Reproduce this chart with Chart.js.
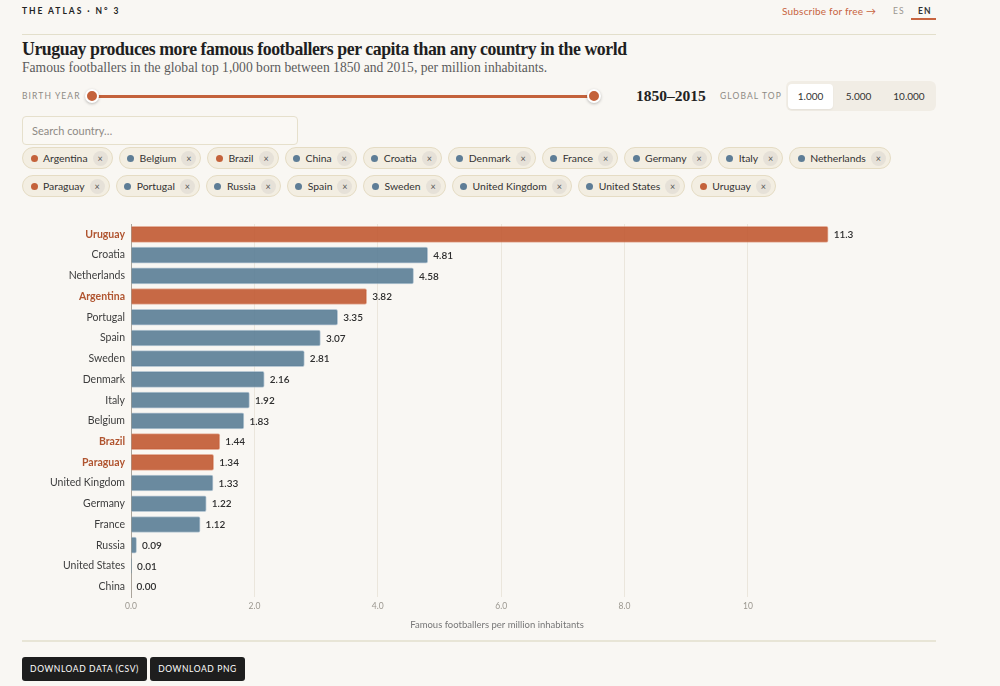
<!DOCTYPE html>
<html><head><meta charset="utf-8">
<script src="https://cdn.jsdelivr.net/npm/chart.js@4.4.1/dist/chart.umd.min.js"></script>
<style>
html,body{margin:0;padding:0;background:#f9f7f3;}
body{width:1000px;height:686px;position:relative;overflow:hidden;font-family:Lato,"Noto Sans",sans-serif;color:#222;}
*{box-sizing:border-box;}
.abs{position:absolute;white-space:nowrap;}
.brand{left:22px;top:5px;font-size:8.5px;font-weight:700;letter-spacing:1.95px;line-height:12px;color:#222;}
.sub{left:782px;top:5px;font-size:10px;color:#c8643f;line-height:12px;letter-spacing:0.2px;}
.lang{top:5px;font-size:8.5px;letter-spacing:1.2px;line-height:12px;}
.rule{left:22px;width:914px;height:1px;background:#e3dfcb;}
.title{left:22px;top:38px;font-family:"Liberation Serif",serif;font-weight:700;font-size:17.8px;letter-spacing:-0.45px;line-height:22px;color:#1f1f1f;}
.subtitle{left:22px;top:60px;font-family:"Liberation Serif",serif;font-size:13.6px;line-height:16px;color:#5b5b5b;}
.lbl{font-size:8.5px;letter-spacing:1.1px;color:#8d8a84;line-height:12px;}
.track{left:92px;top:94.5px;width:502px;height:3px;background:#c4623b;border-radius:2px;}
.thumb{width:14px;height:14px;border-radius:50%;background:#c4623b;border:2px solid #fff;box-shadow:0 1px 3px rgba(0,0,0,0.25);}
.range{left:636px;top:87px;font-family:"Liberation Serif",serif;font-weight:700;font-size:15.5px;line-height:18px;color:#222;}
.seg{left:786px;top:81px;width:150px;height:30px;background:#f1ede5;border-radius:6px;}
.segb{top:84px;height:25px;line-height:25px;font-size:10px;color:#333;text-align:center;}
.search{left:22px;top:116px;width:276px;height:29px;border:1px solid #e6e0cc;border-radius:4px;background:#faf8f4;}
.search span{position:absolute;left:9px;top:7px;font-size:11px;color:#8e8a84;}
.row{position:absolute;left:22px;display:flex;gap:6px;}
.chip{height:22px;border:1px solid #e5dcc4;background:#f3eee2;border-radius:11px;display:flex;align-items:center;padding:0 4px 0 7.5px;font-size:10.4px;color:#333;}
.chip .dot{flex:none;width:7px;height:7px;border-radius:50%;margin-right:5.5px;}
.chip .x{flex:none;width:15px;height:15px;border-radius:50%;background:#e6e1d8;margin-left:5px;font-size:9px;line-height:15px;text-align:center;color:#555;}
.btn{top:657px;height:24px;line-height:24px;background:#1e1e1e;color:#fff;font-size:8.5px;letter-spacing:0.6px;border-radius:3px;text-align:center;}
#wrap{position:absolute;left:22px;top:210px;width:914px;height:424px;}
</style></head>
<body>
<div class="abs brand">THE ATLAS · N° 3</div>
<div class="abs sub">Subscribe for free →</div>
<div class="abs lang" style="left:893px;color:#9a968f;">ES</div>
<div class="abs lang" style="left:918px;color:#333;font-weight:700;">EN</div>
<div class="abs" style="left:911px;top:18px;width:25px;height:2px;background:#c8643f;"></div>
<div class="abs rule" style="top:34px;"></div>
<div class="abs title">Uruguay produces more famous footballers per capita than any country in the world</div>
<div class="abs subtitle">Famous footballers in the global top 1,000 born between 1850 and 2015, per million inhabitants.</div>
<div class="abs lbl" style="left:22px;top:90px;">BIRTH YEAR</div>
<div class="abs track"></div>
<div class="abs thumb" style="left:85px;top:89px;"></div>
<div class="abs thumb" style="left:587px;top:89px;"></div>
<div class="abs range">1850–2015</div>
<div class="abs lbl" style="left:720px;top:90px;">GLOBAL TOP</div>
<div class="abs seg"></div>
<div class="abs segb" style="left:788px;width:45px;background:#fff;border-radius:4px;box-shadow:0 1px 2px rgba(0,0,0,0.06);">1.000</div>
<div class="abs segb" style="left:836px;width:45px;">5.000</div>
<div class="abs segb" style="left:886px;width:46px;">10.000</div>
<div class="abs search"><span>Search country…</span></div>
<div class="row" id="row1" style="top:147px;"></div>
<div class="row" id="row2" style="top:175px;"></div>
<div id="wrap"><canvas id="c"></canvas></div>
<div class="abs rule" style="top:640px;height:2px;background:#e8e5d6;"></div>
<div class="abs btn" style="left:22px;width:125px;">DOWNLOAD DATA (CSV)</div>
<div class="abs btn" style="left:150px;width:95px;">DOWNLOAD PNG</div>
<script>
// ---- data ----
const countries = ["Uruguay","Croatia","Netherlands","Argentina","Portugal","Spain","Sweden","Denmark","Italy","Belgium","Brazil","Paraguay","United Kingdom","Germany","France","Russia","United States","China"];
const values = [11.3,4.81,4.58,3.82,3.35,3.07,2.81,2.16,1.92,1.83,1.44,1.34,1.33,1.22,1.12,0.09,0.01,0.00];
const southAmerica = ["Argentina","Brazil","Paraguay","Uruguay"];
const selectedRow1 = ["Argentina","Belgium","Brazil","China","Croatia","Denmark","France","Germany","Italy","Netherlands"];
const selectedRow2 = ["Paraguay","Portugal","Russia","Spain","Sweden","United Kingdom","United States","Uruguay"];
const xTicks = [0,2,4,6,8,10];

const ORANGE = "rgba(193,89,50,0.9)", BLUE = "rgba(90,125,150,0.9)";
const DOT_O = "#c4623b", DOT_B = "#5e7d96";
const isSA = c => southAmerica.includes(c);

function fillRow(id, list) {
  const el = document.getElementById(id);
  list.forEach(c => {
    const d = document.createElement('div'); d.className = 'chip';
    d.innerHTML = '<span class="dot" style="background:'+(isSA(c)?DOT_O:DOT_B)+'"></span><span>'+c+'</span><span class="x">×</span>';
    el.appendChild(d);
  });
}
fillRow('row1', selectedRow1);
fillRow('row2', selectedRow2);

const fmt = v => v >= 10 ? v.toFixed(1) : v.toFixed(2);

const valueLabels = {
  id: 'valueLabels',
  afterDatasetsDraw(chart) {
    const ctx = chart.ctx, meta = chart.getDatasetMeta(0);
    ctx.save();
    ctx.font = '600 10px Lato, sans-serif';
    ctx.fillStyle = '#2e2e2e';
    ctx.textBaseline = 'middle';
    meta.data.forEach((el, i) => {
      ctx.fillText(fmt(values[i]), el.x + 5.5, el.y + 0.5);
    });
    ctx.restore();
  }
};

new Chart(document.getElementById('c'), {
  type: 'bar',
  data: {
    labels: countries,
    datasets: [{
      data: values,
      backgroundColor: countries.map(c => isSA(c) ? ORANGE : BLUE),
      borderColor: countries.map(c => isSA(c) ? 'rgba(214,130,98,0.6)' : 'rgba(140,168,190,0.6)'),
      borderWidth: 1,
      borderRadius: 2,
      borderSkipped: 'start',
      barThickness: 16
    }]
  },
  options: {
    indexAxis: 'y',
    responsive: true,
    maintainAspectRatio: false,
    animation: false,
    layout: { padding: { top: 14, right: 73, left: 0, bottom: 0 } },
    plugins: { legend: { display: false }, tooltip: { enabled: false } },
    scales: {
      x: {
        min: 0, max: 11.865,
        afterBuildTicks(s) { s.ticks = xTicks.map(v => ({ value: v })); },
        afterFit(s) { s.height = 37; },
        grid: { color: '#ebe6dc', lineWidth: 1, drawTicks: false },
        border: { display: false },
        ticks: { padding: 4, color: '#9b978f', font: { size: 8.5, family: 'Lato' }, callback: v => Number(v).toPrecision(2) },
        title: { display: true, text: 'Famous footballers per million inhabitants', color: '#777', font: { size: 9.5, family: 'Lato' }, padding: { top: 4, bottom: 3 } }
      },
      y: {
        afterFit(s) { s.width = 109; },
        grid: { display: false, drawTicks: false },
        border: { display: true, color: '#aaa49b', width: 1 },
        ticks: {
          padding: 6,
          color: ctx => isSA(countries[ctx.index]) ? '#b0542f' : '#3d3d3d',
          font: ctx => ({ size: 10.5, family: 'Lato', weight: isSA(countries[ctx.index]) ? '700' : '400' })
        }
      }
    }
  },
  plugins: [valueLabels]
});
</script>
</body></html>
